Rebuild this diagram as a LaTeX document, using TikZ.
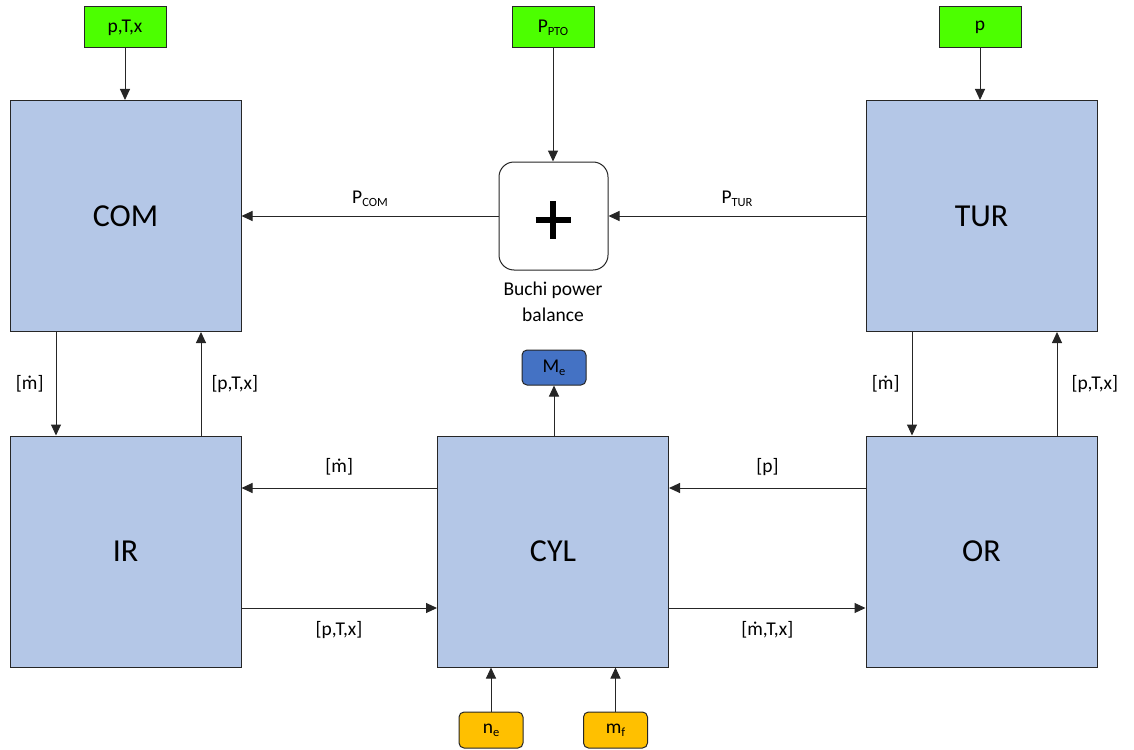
\documentclass[tikz,border=0pt]{standalone}
\usepackage{fontspec}
\setmainfont{Carlito}
\usetikzlibrary{arrows.meta}
\definecolor{blk}{RGB}{180,199,231}
\definecolor{grn}{RGB}{76,255,0}
\definecolor{meblue}{RGB}{68,114,196}
\definecolor{ylw}{RGB}{255,192,0}
\newcommand{\lowtxt}[1]{\raisebox{-0.35ex}{\fontsize{12.5}{12.5}\selectfont #1}}
\tikzset{
  block/.style={draw=black!85, line width=1pt, fill=blk, minimum width=231pt, minimum height=231pt, inner sep=0pt, font=\fontsize{32}{32}\selectfont},
  inbox/.style={draw=black!85, line width=1pt, fill=grn, minimum width=82pt, minimum height=41pt, inner sep=0pt, font=\fontsize{19.5}{19.5}\selectfont},
  outbox/.style={draw=black!85, line width=1pt, fill=meblue, rounded corners=5pt, minimum width=64pt, minimum height=35pt, inner sep=0pt, font=\fontsize{19.5}{19.5}\selectfont},
  ybox/.style={draw=black!85, line width=1pt, fill=ylw, rounded corners=5pt, minimum width=64pt, minimum height=36pt, inner sep=0pt, font=\fontsize{19.5}{19.5}\selectfont},
  sumbox/.style={draw=black!85, line width=1pt, fill=white, rounded corners=15pt, minimum width=109pt, minimum height=108pt, inner sep=0pt},
  conn/.style={line width=1pt, draw=black!85, -{Triangle[length=11pt,width=10pt]}},
  lbl/.style={font=\fontsize{19.5}{19.5}\selectfont, inner sep=0pt}
}
\begin{document}
\begin{tikzpicture}[x=1pt,y=-1pt]
\useasboundingbox (0,0) rectangle (1134,749);
% blocks
\node[block] (com) at (125.5,216) {COM};
\node[block] (tur) at (981.5,216) {TUR};
\node[block] (ir) at (125.5,551.5) {IR};
\node[block] (cyl) at (553,551.5) {CYL};
\node[block] (or) at (981.5,551.5) {OR};
% inputs
\node[inbox] (in1) at (125,27.5) {p,T,x};
\node[inbox] (in2) at (553,27.5) {P\lowtxt{PTO}};
\node[inbox] (in3) at (980,27.5) {p};
% sum
\node[sumbox] (sum) at (553.5,216) {};
\node[lbl, align=center, font=\fontsize{19.5}{26}\selectfont] (sumlbl) at (553,302) {Buchi power\\balance};
\draw[line width=5.5pt] (535.5,220) -- (570.5,220) (553,201) -- (553,239);
% output
\node[outbox] (me) at (554,367.5) {M\lowtxt{e}};
\node[ybox] (ne) at (491,730) {n\lowtxt{e}};
\node[ybox] (mf) at (615.5,730) {m\lowtxt{f}};
% top arrows
\draw[conn] (in1.south) -- (com.north -| in1.south);
\draw[conn] (in2.south) -- (sum.north -| in2.south);
\draw[conn] (in3.south) -- (tur.north -| in3.south);
% power
\draw[conn] (sum.west) -- node[lbl, above=9pt] {P\lowtxt{COM}} (com.east |- sum.west);
\draw[conn] (tur.west |- sum.east) -- node[lbl, above=9pt] {P\lowtxt{TUR}} (sum.east);
% verticals left
\coordinate (a1) at (56,332);
\draw[conn] (a1) -- node[lbl, left=12pt] {[ṁ]} (a1 |- ir.north);
\coordinate (a2) at (201,436);
\draw[conn] (a2) -- node[lbl, right=10pt] {[p,T,x]} (a2 |- com.south);
% verticals right
\coordinate (b1) at (912,332);
\draw[conn] (b1) -- node[lbl, left=12pt] {[ṁ]} (b1 |- or.north);
\coordinate (b2) at (1057,436);
\draw[conn] (b2) -- node[lbl, right=14pt] {[p,T,x]} (b2 |- tur.south);
% horizontals
\coordinate (h1) at (437,488);
\draw[conn] (h1) -- node[lbl, above=12pt] {[ṁ]} (h1 -| ir.east);
\coordinate (h2) at (866,488);
\draw[conn] (h2) -- node[lbl, above=12pt] {[p]} (h2 -| cyl.east);
\coordinate (h3) at (241,608);
\draw[conn] (h3) -- node[lbl, below=13pt] {[p,T,x]} (h3 -| cyl.west);
\coordinate (h4) at (669,608);
\draw[conn] (h4) -- node[lbl, below=13pt] {[ṁ,T,x]} (h4 -| or.west);
% cylinder in/out
\draw[conn] (cyl.north -| me.south) -- (me.south);
\draw[conn] (ne.north) -- (cyl.south -| ne.north);
\draw[conn] (mf.north) -- (cyl.south -| mf.north);
\end{tikzpicture}
\end{document}
